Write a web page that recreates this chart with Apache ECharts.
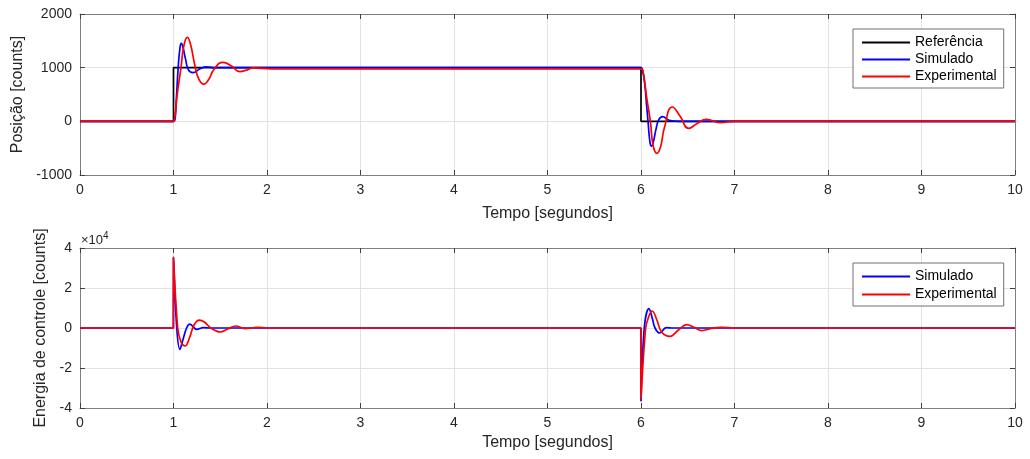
<!DOCTYPE html>
<html>
<head>
<meta charset="utf-8">
<script src="https://cdn.jsdelivr.net/npm/echarts@6/dist/echarts.min.js"></script>
<style>
html,body{margin:0;padding:0;background:#fff;}
#chart{width:1030px;height:459px;}
</style>
</head>
<body>
<div id="chart"></div>
<script>
// ---------- data ----------
const xTicks = [0,1,2,3,4,5,6,7,8,9,10];
const posTicks = [-1000, 0, 1000, 2000];
const ctrlTicks = [-4, -2, 0, 2, 4]; // x 10^4

// Reference (step)
const refT   = [0, 1, 1, 6, 6, 10];
const refPos = [0, 0, 1000, 1000, 0, 0];

// Simulated position
const simPosT = [0, 0.99, 1.0, 1.016, 1.03, 1.05, 1.067, 1.083, 1.1, 1.13, 1.16, 1.21, 1.28, 1.355, 1.45, 1.6, 5.9, 6.0, 6.015, 6.04, 6.06, 6.075, 6.095, 6.11, 6.13, 6.16, 6.19, 6.23, 6.3, 6.4, 6.6, 10];
const simPos  = [0, 0, 0, 30, 400, 1000, 1330, 1452, 1390, 1150, 960, 907, 975, 1013, 1000, 1000, 1000, 1000, 960, 700, 300, 0, -380, -462, -400, -150, 30, 88, 20, 0, 0, 0];

// Experimental position
const expPosT = [0, 0.99, 1.0, 1.01, 1.04, 1.08, 1.11, 1.148, 1.18, 1.23, 1.27, 1.324, 1.38, 1.43, 1.53, 1.62, 1.71, 1.78, 1.85, 1.95, 2.1, 5.9, 6.0, 6.02, 6.06, 6.10, 6.13, 6.17, 6.21, 6.25, 6.335, 6.42, 6.51, 6.6, 6.7, 6.845, 7.0, 7.2, 10];
const expPos  = [0, 0, 0, 30, 500, 1000, 1400, 1563, 1450, 1030, 790, 692, 790, 960, 1100, 1030, 926, 955, 995, 985, 978, 978, 978, 950, 450, 0, -450, -598, -470, -120, 267, 90, -131, -40, 37, -25, 0, 0, 0];

// Simulated control effort (counts)
const simCtrlT = [0, 0.999, 1.0, 1.035, 1.068, 1.1, 1.14, 1.175, 1.248, 1.32, 1.4, 5.999, 6.0, 6.035, 6.085, 6.12, 6.15, 6.2, 6.27, 6.35, 10];
const simCtrl  = [0, 0, 35000, 0, -10700, -6000, 0, 1900, -700, 200, 0, 0, -36500, 0, 9700, 5000, 0, -2500, 200, 0, 0];

// Experimental control effort (counts)
const expCtrlT = [0, 0.999, 1.0, 1.045, 1.08, 1.124, 1.17, 1.22, 1.276, 1.33, 1.4, 1.497, 1.58, 1.668, 1.76, 1.9, 2.0, 5.999, 6.0, 6.05, 6.085, 6.12, 6.17, 6.22, 6.31, 6.4, 6.49, 6.57, 6.65, 6.75, 6.85, 7.0, 10];
const expCtrl  = [0, 0, 35500, 0, -7000, -9000, -5000, 1500, 3900, 3000, 0, -2000, -500, 1000, -300, 300, 0, 0, -35500, 0, 6000, 8500, 4000, -2000, -4200, -1000, 1700, 300, -1300, -200, 300, 0, 0];

// ---------- build ----------
function pairs(t, v){ return t.map((x,i)=>[x, v[i]]); }

const FONT = '"Liberation Sans", Arial, Helvetica, sans-serif';
const TXT = '#262626';
const AXC = '#808080';
const GRIDC = '#e2e2e2';

function mainX(gi, gap){
  return {
    type:'value', gridIndex:gi, position:'bottom', min:0, max:10, interval:1,
    axisLine:{show:true, onZero:false, lineStyle:{color:AXC, width:1}},
    axisTick:{show:true, inside:true, length:5, lineStyle:{color:'#404040'}},
    axisLabel:{show:true, margin:8, color:TXT, fontSize:14, fontFamily:FONT},
    splitLine:{show:true, lineStyle:{color:GRIDC, width:1}},
    name:'Tempo [segundos]', nameLocation:'middle', nameGap:gap,
    nameTextStyle:{color:TXT, fontSize:16, fontFamily:FONT}
  };
}
function mirrorX(gi){
  return {
    type:'value', gridIndex:gi, position:'top', min:0, max:10, interval:1,
    axisLine:{show:true, onZero:false, lineStyle:{color:AXC, width:1}},
    axisTick:{show:true, inside:true, length:5, lineStyle:{color:'#404040'}},
    axisLabel:{show:false}, splitLine:{show:false}
  };
}
function mainY(gi, min, max, step, fmt, name, gap){
  return {
    type:'value', gridIndex:gi, position:'left', min:min, max:max, interval:step,
    axisLine:{show:true, onZero:false, lineStyle:{color:AXC, width:1}},
    axisTick:{show:true, inside:true, length:5, lineStyle:{color:'#404040'}},
    axisLabel:{show:true, margin:8, color:TXT, fontSize:14, fontFamily:FONT, formatter:fmt},
    splitLine:{show:true, lineStyle:{color:GRIDC, width:1}},
    name:name, nameLocation:'middle', nameGap:gap,
    nameTextStyle:{color:TXT, fontSize:16, fontFamily:FONT}
  };
}
function mirrorY(gi, min, max, step){
  return {
    type:'value', gridIndex:gi, position:'right', min:min, max:max, interval:step,
    axisLine:{show:true, onZero:false, lineStyle:{color:AXC, width:1}},
    axisTick:{show:true, inside:true, length:5, lineStyle:{color:'#404040'}},
    axisLabel:{show:false}, splitLine:{show:false}
  };
}

function lineSeries(name, color, xi, yi, data, smooth){
  return {
    name:name, type:'line', xAxisIndex:xi, yAxisIndex:yi, data:data,
    symbol:'none', smooth:smooth,
    lineStyle:{color:color, width:1.7}, itemStyle:{color:color},
    animation:false
  };
}

const chart = echarts.init(document.getElementById('chart'), null, {renderer:'canvas'});
const option = {
  backgroundColor:'#fff',
  animation:false,
  textStyle:{fontFamily:FONT},
  grid:[
    {left:80, top:14, width:935, height:161},
    {left:80, top:248, width:935, height:160}
  ],
  xAxis:[ mainX(0, 31), mirrorX(0), mainX(1, 27), mirrorX(1) ],
  yAxis:[
    mainY(0, -1000, 2000, 1000, v=>String(v), 'Posição [counts]', 54),
    mirrorY(0, -1000, 2000, 1000),
    mainY(1, -40000, 40000, 20000, v=>String(v/10000), 'Energia de controle [counts]', 27),
    mirrorY(1, -40000, 40000, 20000)
  ],
  legend:[
    {
      data:['Referência','Simulado','Experimental'],
      orient:'vertical', left:853, top:29,
      icon:'rect', itemWidth:48, itemHeight:2, itemGap:0, itemTextGap:5,
      padding:[5,7,3,9],
      borderColor:'#707070', borderWidth:1, backgroundColor:'#fff',
      textStyle:{color:'#000', fontSize:14, fontFamily:FONT, lineHeight:17},
      selectedMode:false
    },
    {
      data:['Simulado','Experimental'],
      orient:'vertical', left:853, top:263,
      icon:'rect', itemWidth:48, itemHeight:2, itemGap:1, itemTextGap:5,
      padding:[5,7,3,9],
      borderColor:'#707070', borderWidth:1, backgroundColor:'#fff',
      textStyle:{color:'#000', fontSize:14, fontFamily:FONT, lineHeight:17},
      selectedMode:false
    }
  ],
  graphic:[
    {
      type:'text', left:81, top:231, z:10,
      style:{
        text:'{a|×10}{b|4}',
        rich:{
          a:{fontSize:13, fill:TXT, fontFamily:FONT, verticalAlign:'bottom'},
          b:{fontSize:10, fill:TXT, fontFamily:FONT, verticalAlign:'top', padding:[0,0,6,0]}
        }
      }
    }
  ],
  series:[
    lineSeries('Referência', '#000000', 0, 0, pairs(refT, refPos), false),
    lineSeries('Simulado', '#0000ff', 0, 0, pairs(simPosT, simPos), 0.5),
    lineSeries('Experimental', '#ff0000', 0, 0, pairs(expPosT, expPos), 0.5),
    lineSeries('Simulado', '#0000ff', 2, 2, pairs(simCtrlT, simCtrl), 0.4),
    lineSeries('Experimental', '#ff0000', 2, 2, pairs(expCtrlT, expCtrl), 0.4)
  ]
};
chart.setOption(option);
</script>
</body>
</html>
